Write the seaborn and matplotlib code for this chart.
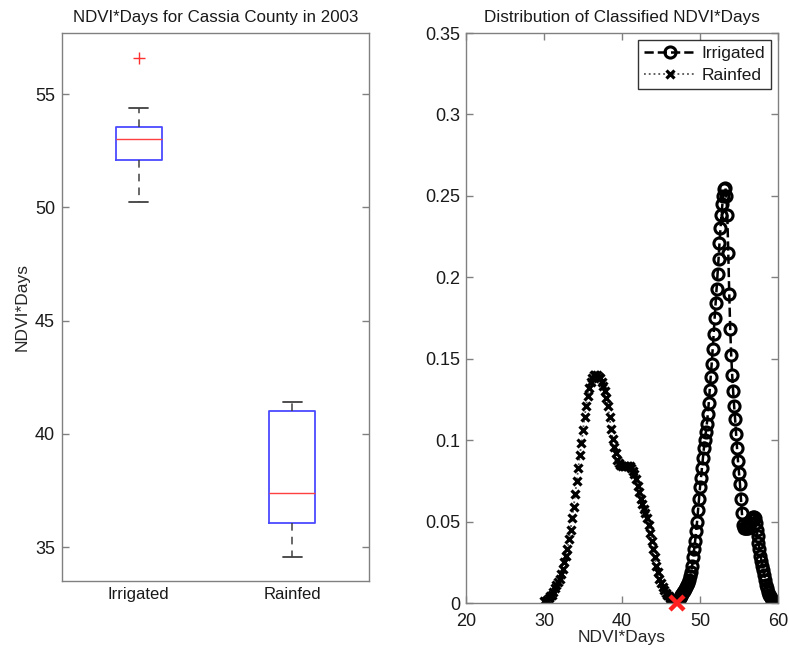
import matplotlib
matplotlib.use("Agg")
import matplotlib.pyplot as plt
import seaborn as sns
import pandas as pd

# ---------------- data ----------------
box_labels = ["Irrigated", "Rainfed"]
box_whislo = [50.25, 34.55]
box_q1 = [52.1, 36.05]
box_med = [53.0, 37.4]
box_q3 = [53.55, 41.0]
box_whishi = [54.4, 41.4]
box_fliers = [[56.6], []]

rain_x = [30.0, 30.2, 30.4, 30.6, 30.8, 31.0, 31.2, 31.4, 31.6, 31.8,
          32.0, 32.2, 32.4, 32.6, 32.8, 33.0, 33.2, 33.4, 33.6, 33.8,
          34.0, 34.2, 34.4, 34.6, 34.8, 35.0, 35.2, 35.4, 35.6, 35.8,
          36.0, 36.2, 36.4, 36.6, 36.8, 37.0, 37.2, 37.4, 37.6, 37.8,
          38.0, 38.2, 38.4, 38.6, 38.8, 39.0, 39.2, 39.4, 39.6, 39.8,
          40.0, 40.2, 40.4, 40.6, 40.8, 41.0, 41.2, 41.4, 41.6, 41.8,
          42.0, 42.2, 42.4, 42.6, 42.8, 43.0, 43.2, 43.4, 43.6, 43.8,
          44.0, 44.2, 44.4, 44.6, 44.8, 45.0, 45.2, 45.4, 45.6, 45.8,
          46.0, 46.2, 46.4, 46.6, 46.8, 47.0]
rain_y = [0.001, 0.0015, 0.002, 0.003, 0.004, 0.005, 0.007, 0.009, 0.011, 0.013,
          0.015, 0.018, 0.021, 0.025, 0.029, 0.033, 0.039, 0.045, 0.052, 0.059,
          0.067, 0.075, 0.083, 0.091, 0.098, 0.106, 0.114, 0.121, 0.127, 0.132,
          0.136, 0.138, 0.140, 0.140, 0.140, 0.139, 0.138, 0.136, 0.133, 0.130,
          0.126, 0.121, 0.114, 0.107, 0.101, 0.096, 0.092, 0.088, 0.086, 0.085,
          0.084, 0.084, 0.084, 0.084, 0.084, 0.084, 0.083, 0.081, 0.079, 0.076,
          0.072, 0.068, 0.064, 0.061, 0.058, 0.055, 0.052, 0.048, 0.043, 0.038,
          0.033, 0.028, 0.023, 0.019, 0.015, 0.012, 0.010, 0.008, 0.006, 0.005,
          0.004, 0.003, 0.002, 0.0015, 0.001, 0.0005]

irr_x = [46.5, 46.625, 46.75, 46.875, 47.0, 47.125, 47.25, 47.375, 47.5, 47.625,
         47.75, 47.875, 48.0, 48.125, 48.25, 48.375, 48.5, 48.625, 48.75, 48.875,
         49.0, 49.125, 49.25, 49.375, 49.5, 49.625, 49.75, 49.875, 50.0, 50.125,
         50.25, 50.375, 50.5, 50.625, 50.75, 50.875, 51.0, 51.125, 51.25, 51.375,
         51.5, 51.625, 51.75, 51.875, 52.0, 52.125, 52.25, 52.375, 52.5, 52.625,
         52.75, 52.875, 53.0, 53.125, 53.25, 53.375, 53.5, 53.625, 53.75, 53.875,
         54.0, 54.125, 54.25, 54.375, 54.5, 54.625, 54.75, 54.875, 55.0, 55.125,
         55.25, 55.375, 55.5, 55.625, 55.75, 55.875, 56.0, 56.125, 56.25, 56.375,
         56.5, 56.625, 56.75, 56.875, 57.0, 57.125, 57.25, 57.375, 57.5, 57.625,
         57.75, 57.875, 58.0, 58.125, 58.25, 58.375, 58.5, 58.625, 58.75, 58.875,
         59.0, 59.125, 59.25, 59.375, 59.5, 59.625]
irr_y = [0.0003, 0.0005, 0.0008, 0.001, 0.0015, 0.002, 0.0025, 0.003, 0.004, 0.0048,
         0.0055, 0.0065, 0.0075, 0.0087, 0.010, 0.0113, 0.0125, 0.014, 0.0165, 0.019,
         0.023, 0.028, 0.033, 0.038, 0.044, 0.050, 0.057, 0.064, 0.071, 0.077,
         0.083, 0.089, 0.095, 0.100, 0.105, 0.110, 0.116, 0.123, 0.131, 0.139,
         0.147, 0.156, 0.165, 0.175, 0.184, 0.193, 0.202, 0.211, 0.221, 0.230,
         0.238, 0.245, 0.250, 0.254, 0.255, 0.250, 0.238, 0.215, 0.190, 0.168,
         0.152, 0.140, 0.130, 0.121, 0.113, 0.104, 0.095, 0.087, 0.080, 0.073,
         0.064, 0.055, 0.048, 0.046, 0.046, 0.046, 0.046, 0.046, 0.047, 0.049,
         0.051, 0.052, 0.053, 0.053, 0.052, 0.049, 0.045, 0.041, 0.037, 0.033,
         0.029, 0.026, 0.023, 0.020, 0.017, 0.014, 0.011, 0.009, 0.007, 0.005,
         0.004, 0.003, 0.002, 0.001, 0.0006, 0.0003]

threshold_x = [47.0]
threshold_y = [0.0]

# ---------------- style ----------------
sns.set_style("white")
plt.rcParams['font.family'] = ['Liberation Sans', 'DejaVu Sans']
plt.rcParams['axes.edgecolor'] = '#808080'
plt.rcParams['axes.linewidth'] = 1.0
plt.rcParams['text.color'] = '#1a1a1a'
plt.rcParams['xtick.color'] = '#1a1a1a'
plt.rcParams['ytick.color'] = '#1a1a1a'

fig = plt.figure(figsize=(7.89, 6.48), dpi=100)
ax1 = fig.add_axes([62/789, (648-581)/648, 307/789, 548/648])
ax2 = fig.add_axes([466/789, (648-603)/648, 312/789, 570/648])

# ---------------- left: boxplot ----------------
stats = []
for i in range(len(box_labels)):
    stats.append(dict(label=box_labels[i], whislo=box_whislo[i], q1=box_q1[i], med=box_med[i],
                      q3=box_q3[i], whishi=box_whishi[i], fliers=box_fliers[i]))
ax1.bxp(stats, positions=[1, 2], widths=0.3, capwidths=0.125, showfliers=True,
        boxprops=dict(color='#4a4aff', linewidth=1.3),
        medianprops=dict(color='#ff4040', linewidth=1.0),
        whiskerprops=dict(color='#404040', linestyle=(0, (5, 4)), linewidth=1.1),
        capprops=dict(color='#404040', linewidth=1.3),
        flierprops=dict(marker='+', markeredgecolor='#ff3030', markersize=9, markeredgewidth=1.0))
ax1.set_xlim(0.5, 2.5)
ax1.set_ylim(33.5, 57.7)
ax1.set_yticks([35, 40, 45, 50, 55])
ax1.set_xticks([1, 2])
ax1.set_xticklabels(box_labels)
ax1.set_ylabel("NDVI*Days", fontsize=12.5, labelpad=4)
ax1.set_title("NDVI*Days for Cassia County in 2003", fontsize=12.2, pad=8)
ax1.tick_params(axis='y', direction='in', length=5, width=1, color='#808080',
                labelcolor='#1a1a1a', left=True, right=True, labelsize=13, pad=5)
ax1.tick_params(axis='x', length=0, labelsize=12, pad=4)
for s in ax1.spines.values():
    s.set_visible(True)

# ---------------- right: density lines ----------------
df_irr = pd.DataFrame({"x": irr_x, "y": irr_y})
df_rain = pd.DataFrame({"x": rain_x, "y": rain_y})
sns.lineplot(data=df_irr, x="x", y="y", ax=ax2, color='black', linestyle='--', linewidth=1.8,
             marker='o', markersize=8, markerfacecolor='none', markeredgecolor='black',
             markeredgewidth=2.2, sort=False, label='Irrigated')
sns.lineplot(data=df_rain, x="x", y="y", ax=ax2, color='#555555', linestyle=':', linewidth=1.3,
             marker='x', markersize=6, markeredgecolor='black', markeredgewidth=2.3,
             sort=False, label='Rainfed')
ax2.plot(threshold_x, threshold_y, linestyle='none', marker='x', markersize=10,
         markeredgewidth=3.2, color='#ff2020', zorder=5, clip_on=False)
ax2.set_xlim(20, 60)
ax2.set_ylim(0, 0.35)
ax2.set_xticks([20, 30, 40, 50, 60])
ax2.set_yticks([0, 0.05, 0.1, 0.15, 0.2, 0.25, 0.3, 0.35])
ax2.set_yticklabels(["0", "0.05", "0.1", "0.15", "0.2", "0.25", "0.3", "0.35"])
ax2.set_xlabel("NDVI*Days", fontsize=12.5, labelpad=0)
ax2.set_ylabel("")
ax2.set_title("Distribution of Classified NDVI*Days", fontsize=12.3, pad=8)
ax2.tick_params(axis='both', direction='in', length=5, width=1, color='#808080',
                labelcolor='#1a1a1a', left=True, right=True, top=True, bottom=True,
                labelsize=13, pad=4)
ax2.tick_params(axis='x', pad=7)
for s in ax2.spines.values():
    s.set_visible(True)
leg = ax2.legend(loc='upper right', frameon=True, fancybox=False, fontsize=12.5,
                 borderaxespad=0.4, handlelength=3.0, handletextpad=0.3,
                 borderpad=0.35, labelspacing=0.4)
leg.get_frame().set_edgecolor('black')
leg.get_frame().set_linewidth(1.0)

fig.savefig("out.png", dpi=100)
